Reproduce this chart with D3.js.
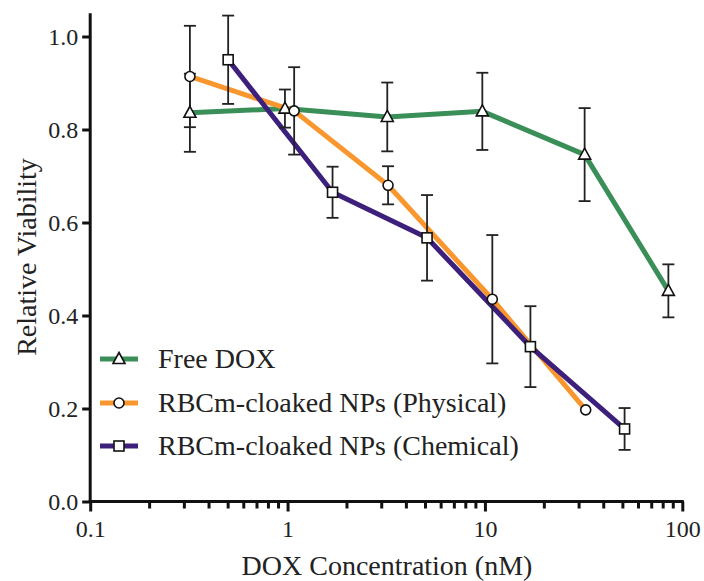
<!DOCTYPE html>
<html>
<head>
<meta charset="utf-8">
<script src="https://d3js.org/d3.v7.min.js"></script>
<style>
  body { margin: 0; background: #fff; }
  .serifA { font-family: 'Liberation Serif' !important; }
</style>
</head>
<body>
<script>
// x values in nM, y = relative viability, err = +/- bar
var freeX = [0.32, 0.97, 3.2, 9.7, 32, 85];
var freeY = [0.836, 0.845, 0.827, 0.839, 0.746, 0.453];
var freeErr = [0.084, 0.041, 0.074, 0.083, 0.100, 0.057];

var physX = [0.32, 1.08, 3.23, 10.9, 32.4];
var physY = [0.914, 0.84, 0.68, 0.435, 0.197];
var physErr = [0.109, 0.094, 0.041, 0.138, 0];

var chemX = [0.5, 1.69, 5.09, 17, 51];
var chemY = [0.95, 0.665, 0.567, 0.333, 0.156];
var chemErr = [0.095, 0.055, 0.092, 0.087, 0.045];

var seriesNames = ["Free DOX", "RBCm-cloaked NPs (Physical)", "RBCm-cloaked NPs (Chemical)"];
var seriesColors = ["#3a8f58", "#f9962d", "#3d1f7c"];
var seriesMarks = ["triangle", "circle", "square"];

var yTicks = [0.0, 0.2, 0.4, 0.6, 0.8, 1.0];
var xTicks = [0.1, 1, 10, 100];

var width = 704, height = 581;

var svg = d3.select("body").append("svg")
    .attr("width", width)
    .attr("height", height);

var x = d3.scaleLog().domain([0.1, 100]).range([90.2, 682.3]);
var y = d3.scaleLinear().domain([0, 1]).range([501.5, 36.5]);

function zip(xs, ys, es) {
  return xs.map(function (v, i) { return { x: v, y: ys[i], e: es[i] }; });
}

var series = [
  zip(freeX, freeY, freeErr),
  zip(physX, physY, physErr),
  zip(chemX, chemY, chemErr)
];

// axes
var yAxis = svg.append("g")
    .attr("transform", "translate(" + x(0.1) + ",0)")
    .call(d3.axisLeft(y).tickValues(yTicks).tickFormat(d3.format(".1f")).tickSize(8).tickPadding(4));
yAxis.attr("font-family", "Liberation Serif");
yAxis.select(".domain").remove();
yAxis.append("line")
    .attr("x1", 0).attr("x2", 0)
    .attr("y1", y(0) + 1.5).attr("y2", y(1.05))
    .attr("stroke", "#111").attr("stroke-width", 3);
yAxis.selectAll(".tick line").attr("stroke", "#111").attr("stroke-width", 3);
yAxis.selectAll(".tick text").attr("font-size", 24).attr("fill", "#222");

var minor = [];
[0.1, 1, 10].forEach(function (dec) {
  for (var k = 2; k <= 9; k++) minor.push(dec * k);
});

var xAxis = svg.append("g")
    .attr("transform", "translate(0," + y(0) + ")")
    .call(d3.axisBottom(x).tickValues(xTicks).tickFormat(function (d) { return d; }).tickSize(10).tickPadding(8));
xAxis.select(".domain").remove();
xAxis.append("line")
    .attr("x1", x(0.1) - 1.5).attr("x2", x(100) + 1.5)
    .attr("y1", 0).attr("y2", 0)
    .attr("stroke", "#111").attr("stroke-width", 3);
xAxis.selectAll(".tick line").attr("stroke", "#111").attr("stroke-width", 3);
xAxis.selectAll(".tick text").attr("class", "serifA").attr("font-size", 24).attr("fill", "#222");
xAxis.selectAll(".minor")
    .data(minor)
    .enter().append("line")
    .attr("class", "minor")
    .attr("x1", function (d) { return x(d); })
    .attr("x2", function (d) { return x(d); })
    .attr("y1", 0).attr("y2", 7)
    .attr("stroke", "#111").attr("stroke-width", 3);

// axis titles
svg.append("text")
    .attr("x", 387).attr("y", 575)
    .attr("text-anchor", "middle")
    .attr("fill", "#222")
    .attr("style", "font-family: 'Liberation Serif'; font-size: 28px")
    .text("DOX Concentration (nM)");

svg.append("text")
    .attr("transform", "translate(36,257) rotate(-90)")
    .attr("text-anchor", "middle")
    .attr("fill", "#222")
    .attr("class", "serifA")
    .attr("font-size", 28)
    .text("Relative Viability");

// lines
var line = d3.line()
    .x(function (d) { return x(d.x); })
    .y(function (d) { return y(d.y); });

series.forEach(function (s, i) {
  svg.append("path")
      .datum(s)
      .attr("d", line)
      .attr("fill", "none")
      .attr("stroke", seriesColors[i])
      .attr("stroke-width", 5)
      .attr("stroke-linejoin", "round")
      .attr("stroke-linecap", "round");
});

// error bars
series.forEach(function (s, i) {
  var g = svg.append("g").attr("class", "err");
  s.filter(function (d) { return d.e > 0; }).forEach(function (d) {
    var cx = x(d.x);
    g.append("line")
        .attr("x1", cx).attr("x2", cx)
        .attr("y1", y(d.y + d.e)).attr("y2", y(d.y - d.e))
        .attr("stroke", "#222").attr("stroke-width", 1.8);
    [d.y + d.e, d.y - d.e].forEach(function (v) {
      g.append("line")
          .attr("x1", cx - 6).attr("x2", cx + 6)
          .attr("y1", y(v)).attr("y2", y(v))
          .attr("stroke", "#222").attr("stroke-width", 1.8);
    });
  });
});

// markers
function drawMark(g, type, cx, cy) {
  if (type === "triangle") {
    g.append("path")
        .attr("d", "M" + cx + "," + (cy - 6.5) + "L" + (cx + 6) + "," + (cy + 4.5) + "L" + (cx - 6) + "," + (cy + 4.5) + "Z")
        .attr("fill", "#fff").attr("stroke", "#111").attr("stroke-width", 1.6);
  } else if (type === "circle") {
    g.append("circle")
        .attr("cx", cx).attr("cy", cy).attr("r", 5)
        .attr("fill", "#fff").attr("stroke", "#111").attr("stroke-width", 1.6);
  } else {
    g.append("rect")
        .attr("x", cx - 5).attr("y", cy - 5).attr("width", 10).attr("height", 10)
        .attr("fill", "#fff").attr("stroke", "#111").attr("stroke-width", 1.6);
  }
}

series.forEach(function (s, i) {
  var g = svg.append("g");
  s.forEach(function (d) { drawMark(g, seriesMarks[i], x(d.x), y(d.y)); });
});

// legend
var legendY = [359, 403, 446];
svg.selectAll(".legend")
    .data(seriesNames)
    .enter().append("g")
    .attr("class", "legend")
    .attr("transform", function (d, i) { return "translate(0," + legendY[i] + ")"; })
    .each(function (name, i) {
      var g = d3.select(this);
      g.append("line")
          .attr("x1", 100).attr("x2", 138)
          .attr("y1", 0).attr("y2", 0)
          .attr("stroke", seriesColors[i]).attr("stroke-width", 5);
      drawMark(g, seriesMarks[i], 119, 0);
    })
    .append("text")
    .attr("x", 158).attr("y", 9)
    .attr("fill", "#222")
    .style("font-family", function () { return "'Liberation Serif'"; })
    .style("font-size", "28px")
    .text(function (d) { return d; });
</script>
</body>
</html>
